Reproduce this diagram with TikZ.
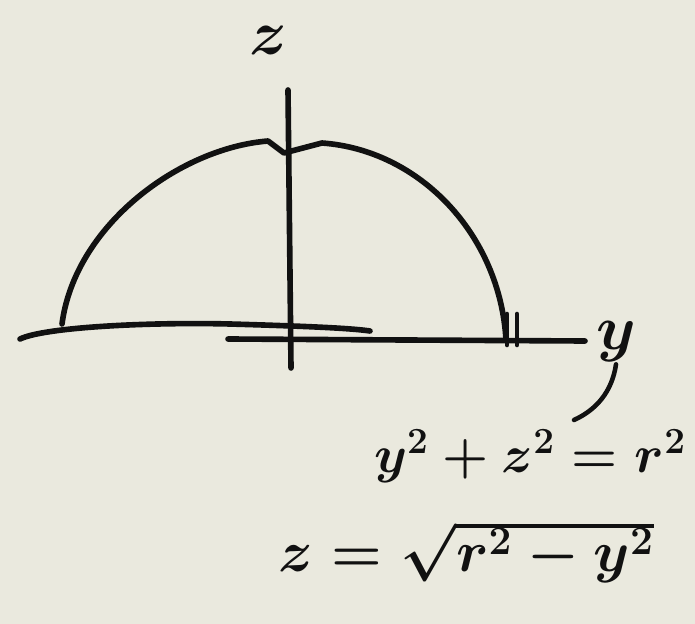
\RequirePackage{fix-cm}
\documentclass[tikz,border=0pt]{standalone}
\usetikzlibrary{positioning}
\definecolor{paperFill}{HTML}{EAE9DE}
\definecolor{penInk}{HTML}{111111}
\tikzset{
  pen/stroke/.style={draw=penInk, line width=3.2pt, line cap=round, line join=round},
  pen/thin/.style={pen/stroke, line width=2.6pt},
  pen/label/.style={text=penInk, inner sep=1pt, font=\fontsize{30}{36}\selectfont\boldmath},
  pen/big/.style={pen/label, font=\fontsize{36}{42}\selectfont\boldmath},
}
\begin{document}
\begin{tikzpicture}[x=0.02cm, y=-0.02cm]
\fill[paperFill] (0,0) rectangle (695,624);
\useasboundingbox (0,0) rectangle (695,624);
% axes
\draw[pen/stroke] (288,90) -- (291,368);
\draw[pen/stroke] (20,339) .. controls (45,327) and (150,322) .. (230,324)
  .. controls (300,326) and (350,328) .. (370,331);
\draw[pen/stroke] (228,339) -- (585,341);
% upper half of the circle
\draw[pen/stroke] (62,324) .. controls (75,225) and (180,148) .. (268,141)
  -- (284,153) -- (322,143) .. controls (420,150) and (500,235) .. (506,340);
\draw[pen/thin] (507,314) -- (507,345);
\draw[pen/thin] (517,314) -- (517,345);
% labels
\node[pen/big] (zlabel) at (268,40) {$z$};
\node[pen/big] (ylabel) at (616,342) {$y$};
\node[pen/label] (circle) at (530,456) {$y^2+z^2=r^2$};
\node[pen/label, font=\fontsize{33}{40}\selectfont\boldmath] (root) at (466,552) {$z=\sqrt{r^2-y^2}$};
\coordinate (tailend) at (574,420);
\draw[pen/thin] (ylabel.south) .. controls (612,392) and (596,410) .. (tailend);
\end{tikzpicture}
\end{document}
